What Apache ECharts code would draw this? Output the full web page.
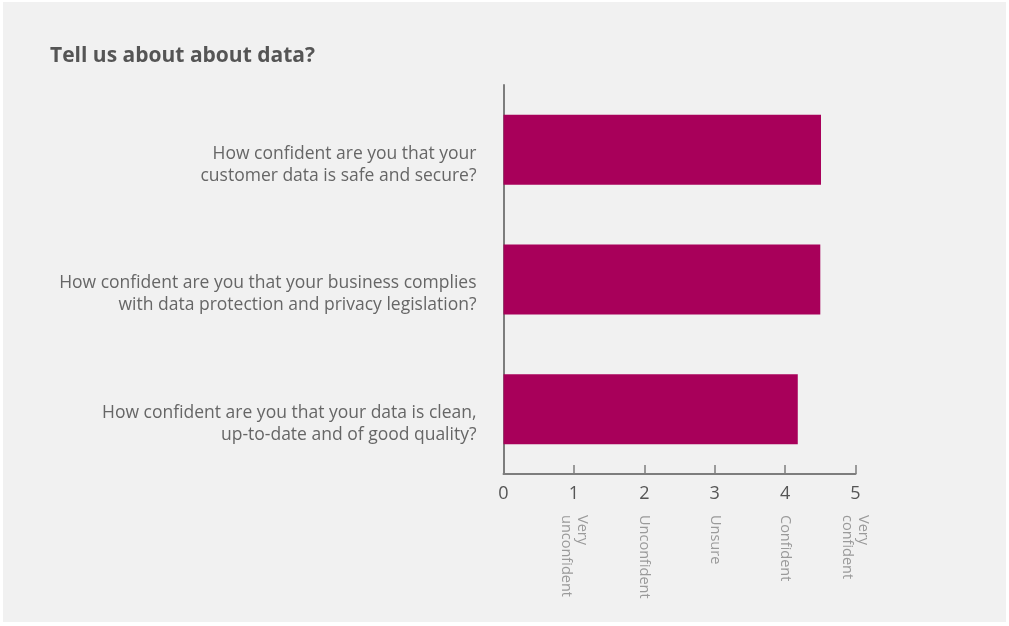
<!DOCTYPE html>
<html>
<head>
<meta charset="utf-8">
<script src="https://cdn.jsdelivr.net/npm/echarts@6/dist/echarts.min.js"></script>
<style>
  html, body { margin: 0; padding: 0; background: #ffffff; }
  #panel { position: absolute; left: 3px; top: 2px; width: 1003px; height: 620px; background: #f1f1f1; }
  #chart { width: 1003px; height: 620px; }
</style>
</head>
<body>
<div id="panel"><div id="chart"></div></div>
<script>
// Survey questions (top to bottom) and their mean confidence scores
const questions = [
  'How confident are you that your\ncustomer data is safe and secure?',
  'How confident are you that your business complies\nwith data protection and privacy legislation?',
  'How confident are you that your data is clean,\nup-to-date and of good quality?'
];
const scores = [4.51, 4.5, 4.18];

// Scale ticks and their verbal meaning
const tickValues = [0, 1, 2, 3, 4, 5];
const tickMeanings = ['', 'Very\nunconfident', 'Unconfident', 'Unsure', 'Confident', 'Very\nconfident'];

const FONT = '"Open Sans"';
const chart = echarts.init(document.getElementById('chart'), null, { renderer: 'canvas' });

chart.setOption({
  backgroundColor: '#f1f1f1',
  animation: false,
  title: {
    text: 'Tell us about about data?',
    left: 42,
    top: 39,
    textStyle: { fontFamily: FONT, fontSize: 21, fontWeight: 'bold', color: '#555555' }
  },
  grid: { left: 500.5, right: 150.5, top: 83, bottom: 148, containLabel: false },
  xAxis: [
    {
      type: 'value',
      min: 0, max: 5, interval: 1,
      position: 'bottom',
      axisLine: { show: true, lineStyle: { color: '#7d7d7d', width: 2 } },
      axisTick: { show: true, inside: true, length: 9, lineStyle: { color: '#7d7d7d', width: 1.5 } },
      splitLine: { show: false },
      axisLabel: {
        margin: 11,
        fontFamily: FONT, fontSize: 18, color: '#555555',
        formatter: v => String(tickValues[v] ?? v)
      }
    },
    {
      type: 'value',
      min: 0, max: 5, interval: 1,
      position: 'bottom',
      offset: 33,
      axisLine: { show: false },
      axisTick: { show: false },
      splitLine: { show: false },
      axisLabel: {
        rotate: -90,
        margin: 8,
        fontFamily: FONT, fontSize: 14.5, color: '#9a9a9a', lineHeight: 16,
        formatter: v => tickMeanings[v] || ''
      }
    }
  ],
  yAxis: {
    type: 'category',
    inverse: true,
    data: questions,
    axisLine: { show: true, lineStyle: { color: '#7d7d7d', width: 2 } },
    axisTick: { show: false },
    axisLabel: {
      margin: 27,
      fontFamily: FONT, fontSize: 17.5, color: '#666666', lineHeight: 22,
      align: 'right',
      formatter: v => '{gap|}\n' + v,
      rich: { gap: { height: 30, lineHeight: 30 } }
    }
  },
  series: [{
    type: 'bar',
    data: scores,
    xAxisIndex: 0,
    barCategoryGap: '46%',
    itemStyle: { color: '#a8005a' },
    label: { show: false }
  }]
});
</script>
</body>
</html>
